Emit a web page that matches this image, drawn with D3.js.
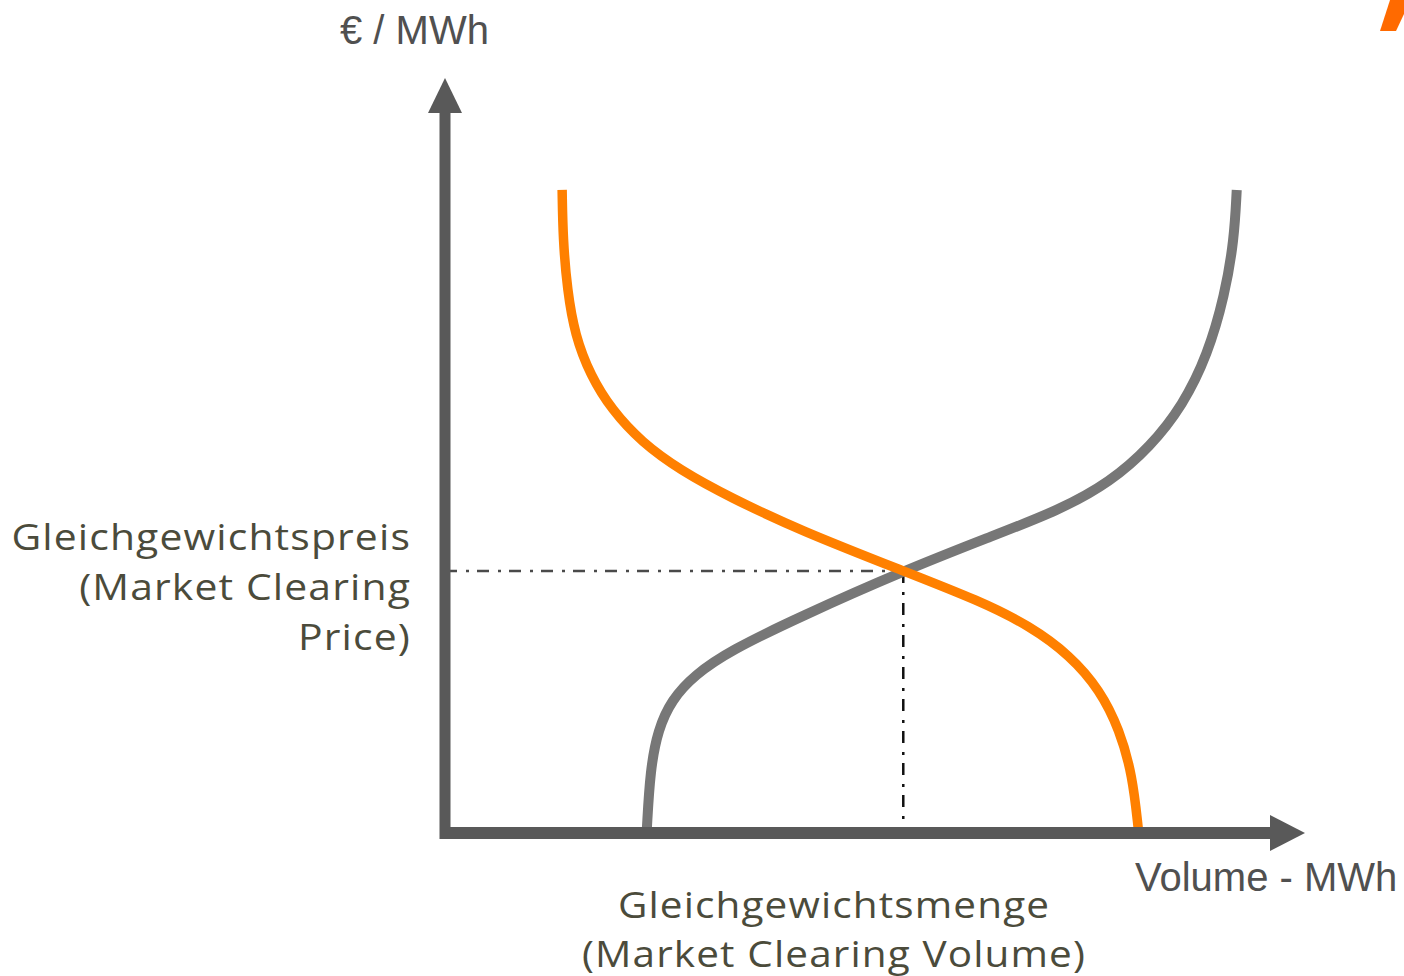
<!DOCTYPE html>
<html>
<head>
<meta charset="utf-8">
<script src="https://d3js.org/d3.v7.min.js"></script>
<style>
  body { margin: 0; background: #fff; }
  .unit { font-family: "Liberation Sans", Arial, sans-serif; font-size: 40px; fill: #505050; }
  .lbl { font-family: "Open Sans", Lato, sans-serif; font-size: 36px; fill: #4b4b3b; letter-spacing: 1px; }
</style>
</head>
<body>
<div id="chart"></div>
<script>
// demand curve (orange), volume vs price, arbitrary units 0..100
var demandVolume = [13.7, 13.8, 14.3, 15.2, 17.0, 19.5, 23.0, 27.5, 33.3, 41.5, 53.6, 62.6, 68.4, 73.1, 76.6, 78.9, 80.4, 81.1];
var demandPrice  = [85.4, 78.8, 72.1, 66.1, 60.8, 56.2, 51.9, 48.2, 44.6, 40.2, 34.8, 30.8, 27.5, 23.6, 19.0, 13.7, 7.7, 0.4];

// supply curve (grey)
var supplyVolume = [23.6, 24.0, 24.9, 26.5, 29.2, 33.3, 41.5, 53.6, 63.7, 71.9, 77.8, 82.5, 86.3, 89.2, 91.2, 92.3, 92.6];
var supplyPrice  = [0.4, 8.4, 13.7, 17.7, 21.0, 24.2, 28.7, 34.8, 39.3, 42.9, 46.6, 51.3, 56.8, 63.5, 71.4, 78.8, 85.4];

// market clearing point
var clearing = [53.6, 34.8];

var yLabelLines = ["Gleichgewichtspreis", "(Market Clearing", "Price)"];
var xLabelLines = ["Gleichgewichtsmenge", "(Market Clearing Volume)"];

var width = 1404, height = 976;

var svg = d3.select("#chart").append("svg")
    .attr("width", width)
    .attr("height", height);

var x = d3.scaleLinear().domain([0, 100]).range([445, 1300]);
var y = d3.scaleLinear().domain([0, 100]).range([833, 80]);

var axisColor = "#595959";

// dash-dot guides to the clearing point
svg.append("path")
    .attr("d", "M" + x(0) + "," + y(clearing[1]) + "H" + x(clearing[0]))
    .attr("fill", "none")
    .attr("stroke", "#4a4a4a")
    .attr("stroke-width", 2.5)
    .attr("stroke-dasharray", "12,9,3,8");
svg.append("path")
    .attr("d", "M" + x(clearing[0]) + "," + y(clearing[1]) + "V" + y(0))
    .attr("fill", "none")
    .attr("stroke", "#111")
    .attr("stroke-width", 2.5)
    .attr("stroke-dasharray", "12,9,3,8");

var line = d3.line()
    .x(d => x(d[0]))
    .y(d => y(d[1]))
    .curve(d3.curveBasis);

svg.append("path")
    .datum(supplyVolume.map((v, i) => [v, supplyPrice[i]]))
    .attr("d", line)
    .attr("fill", "none")
    .attr("stroke", "#777777")
    .attr("stroke-width", 10);

svg.append("path")
    .datum(demandVolume.map((v, i) => [v, demandPrice[i]]))
    .attr("d", line)
    .attr("fill", "none")
    .attr("stroke", "#ff8000")
    .attr("stroke-width", 9.5);

// axes with arrow heads
svg.append("line")
    .attr("x1", x(0)).attr("y1", y(0) + 6)
    .attr("x2", x(0)).attr("y2", 112)
    .attr("stroke", axisColor).attr("stroke-width", 11);
svg.append("path")
    .attr("d", "M" + x(0) + ",78L" + (x(0) - 17) + ",113L" + (x(0) + 17) + ",113Z")
    .attr("fill", axisColor);

svg.append("line")
    .attr("x1", x(0) - 5).attr("y1", y(0))
    .attr("x2", 1272).attr("y2", y(0))
    .attr("stroke", axisColor).attr("stroke-width", 12);
svg.append("path")
    .attr("d", "M1305," + y(0) + "L1270," + (y(0) - 18) + "L1270," + (y(0) + 18) + "Z")
    .attr("fill", axisColor);

// units
svg.append("text").attr("class", "unit")
    .attr("x", 340).attr("y", 44)
    .text("€ / MWh");
svg.append("text").attr("class", "unit")
    .attr("x", 1135).attr("y", 891)
    .text("Volume - MWh");

// annotations (the original face is wider, so stretch a bit horizontally)
svg.append("text").attr("class", "lbl")
    .attr("transform", "translate(411,0) scale(1.135,1)")
    .attr("text-anchor", "end")
    .selectAll("tspan")
    .data(yLabelLines)
    .enter().append("tspan")
    .attr("x", 0)
    .attr("y", (d, i) => 550 + i * 50)
    .text(d => d);

svg.append("text").attr("class", "lbl")
    .attr("transform", "translate(834,0) scale(1.125,1)")
    .attr("text-anchor", "middle")
    .selectAll("tspan")
    .data(xLabelLines)
    .enter().append("tspan")
    .attr("x", 0)
    .attr("y", (d, i) => 918 + i * 49)
    .text(d => d);

// orange corner mark
svg.append("path")
    .attr("d", "M1390,0L1404,0L1404,14L1396,31L1380,31Z")
    .attr("fill", "#ff6a00");
</script>
</body>
</html>
